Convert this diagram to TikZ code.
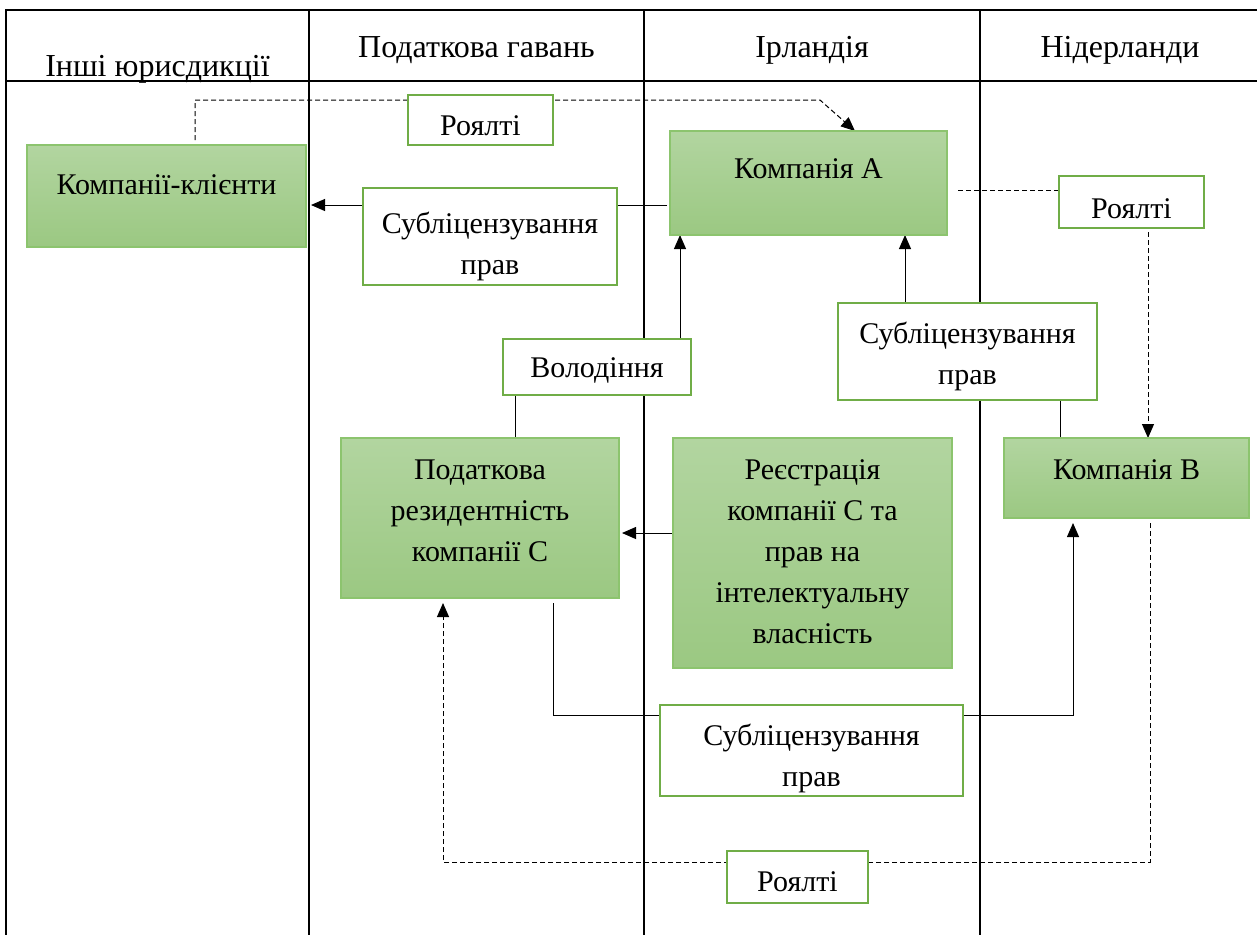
\documentclass[tikz,border=0pt]{standalone}
\usepackage{fontspec}
\setmainfont{Liberation Serif}
\usetikzlibrary{arrows.meta,calc,backgrounds}
\definecolor{boxtop}{RGB}{178,213,160}
\definecolor{boxbottom}{RGB}{155,200,130}
\definecolor{boxline}{RGB}{140,196,110}
\definecolor{labelline}{RGB}{112,173,71}
\newcommand{\boxtext}[4][20]{\parbox[c][\dimexpr#3pt/2\relax][t]{\dimexpr#2pt/2\relax}{\centering\rule{0pt}{#1pt}#4}}
\tikzset{
  company/.style={draw=boxline, line width=0.6pt, top color=boxtop, bottom color=boxbottom,
    inner sep=0pt, outer sep=0pt, font=\fontsize{15}{20.5}\selectfont},
  deal/.style={draw=labelline, line width=1.3pt, fill=white,
    inner sep=0pt, outer sep=0pt, font=\fontsize{15}{20.5}\selectfont},
  flow/.style={-{Triangle[length=7pt,width=6pt]}, line width=0.5pt},
  royalty/.style={flow, dash pattern=on 2.5pt off 1.5pt},
  header/.style={anchor=base, font=\fontsize{16}{18}\selectfont},
  grid/.style={line width=1.1pt}
}

\begin{document}
\begin{tikzpicture}[x=0.5pt,y=-0.5pt]
\useasboundingbox (0,0) rectangle (1257,934);

\node[header] (Other) at (157.5,76) {Інші юрисдикції};
\node[header] (Haven) at (476.5,57) {Податкова гавань};
\node[header] (Ireland) at (812,57) {Ірландія};
\node[header] (Netherlands) at (1120,57) {Нідерланди};

\node[company] (ClientCos) at (166.5,196) {\boxtext[24.5]{279}{102}{Компанії-клієнти}};
\node[company] (CompanyA) at (808.5,183) {\boxtext[23.5]{277}{104}{Компанія А}};
\node[company] (ResidenceC) at (480,518) {\boxtext[20.5]{278}{160}{Податкова\\резидентність\\компанії С}};
\node[company] (RegistrationC) at (812.5,553) {\boxtext[20.5]{279}{230}{Реєстрація\\компанії С та\\прав на\\інтелектуальну\\власність}};
\node[company] (CompanyB) at (1126.5,478) {\boxtext[20.5]{245}{80}{Компанія В}};

\node[deal] (RoyaltyTop) at (480.5,120) {\boxtext{145}{50}{Роялті}};
\node[deal] (SublicenseLeft) at (490,236.5) {\boxtext[22.5]{254}{97}{Субліцензування\\прав}};
\node[deal] (RoyaltyRight) at (1131.5,202) {\boxtext[21]{145}{52}{Роялті}};
\node[deal] (Ownership) at (597,367) {\boxtext[19]{188}{56}{Володіння}};
\node[deal] (SublicenseMid) at (967.5,351.5) {\boxtext{259}{97}{Субліцензування\\прав}};
\node[deal] (SublicenseBottom) at (811.5,750.5) {\boxtext{303}{91}{Субліцензування\\прав}};
\node[deal] (RoyaltyBottom) at (797.5,877) {\boxtext{141}{52}{Роялті}};

\begin{scope}[on background layer]
\draw[grid] (6,940) -- (6,10) -- (1262,10);
\draw[grid] (6,81) -- (1262,81);
\foreach \x in {309,644,980}
  \draw[grid] (\x,10) -- (\x,940);

\draw[royalty] ($(ClientCos.north)+(28.5,-5)$) |- ($(CompanyA.north)+(11.5,-31)$) -- ($(CompanyA.north)+(46.5,0)$);
\draw[flow] ($(CompanyA.west)+(-3,22)$) -- ($(ClientCos.east)+(5,9)$);
\draw[flow] ($(ResidenceC.north)+(35,0)$) |- (Ownership.center) -| ($(CompanyA.south)+(-128.5,0)$);
\draw[flow] ($(CompanyB.north)+(-66.5,0)$) |- (SublicenseMid.center) -| ($(CompanyA.south)+(96.5,0)$);
\draw[royalty] ($(CompanyA.east)+(11,7)$) -| ($(CompanyB.north)+(21.5,0)$);
\draw[flow] ($(RegistrationC.west)+(0,-20)$) -- ($(ResidenceC.east)+(3,15)$);
\draw[flow] ($(ResidenceC.south)+(73,5)$) |- ($(SublicenseBottom.center)+(0,-35)$) -| ($(CompanyB.south)+(-53.5,5)$);
\draw[royalty] ($(CompanyB.south)+(23.5,5)$) |- ($(RoyaltyBottom.north)+(0,11)$) -| ($(ResidenceC.south)+(-37,5)$);
\end{scope}
\end{tikzpicture}
\end{document}
